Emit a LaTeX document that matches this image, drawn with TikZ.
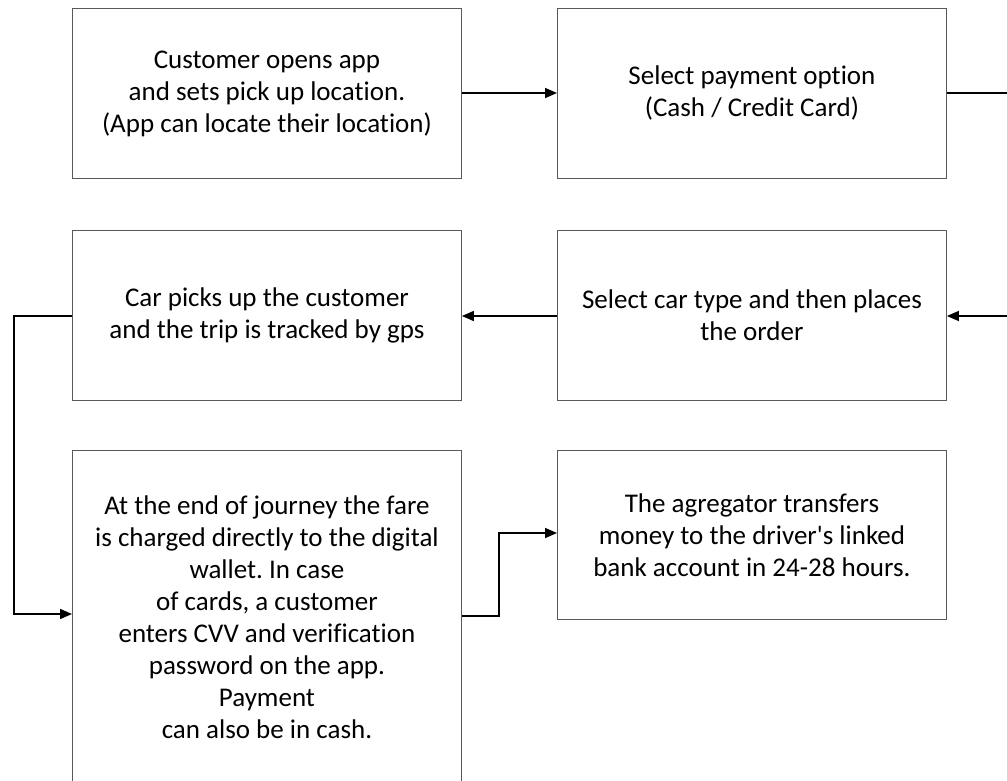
\documentclass[tikz,border=0pt]{standalone}
\usepackage{fontspec}
\setmainfont{Carlito}[Ligatures={NoCommon}]
\usetikzlibrary{arrows.meta}
\frenchspacing
\begin{document}
\begin{tikzpicture}[x=1pt,y=-1pt,
  box/.style={draw=black!65,line width=0.9pt,rectangle,minimum width=389pt,minimum height=170pt,
    align=center,inner sep=0pt,font=\fontsize{27}{32}\selectfont,anchor=north west},
  conn/.style={draw=black,line width=1.6pt},
  arr/.style={conn,-{Triangle[length=12pt,width=10pt]}}]
\useasboundingbox (0,0) rectangle (1007,781);
\clip (0,0) rectangle (1007,781);
\node[box] (b1) at (72,8) {Customer opens app\\and sets pick up location.\\(App can locate their location)};
\node[box] (b2) at (557,8) {Select payment option\\(Cash / Credit Card)};
\node[box] (b3) at (72,230) {Car picks up the customer\\and the trip is tracked by gps};
\node[box] (b4) at (557,230) {Select car type and then places\\the order};
\node[box,minimum height=333pt] (b5) at (72,450) {At the end of journey the fare\\is charged directly to the digital\\wallet. In case\\of cards, a customer\\enters CVV and verification\\password on the app.\\Payment\\can also be in cash.};
\node[box,minimum height=169pt] (b6) at (557,450) {The agregator transfers\\money to the driver\textquotesingle s linked\\bank account in 24-28 hours.};
\coordinate (r1) at (1012,93);
\coordinate (r2) at (1012,316);
\coordinate (l1) at (14,316);
\coordinate (l2) at (14,614);
\coordinate (m1) at (499,616);
\coordinate (m2) at (499,533);
\draw[arr] (b1.east |- 0,93) -- (b2.west |- 0,93);
\draw[conn] (b2.east |- 0,93) -- (r1);
\draw[arr] (r2) -- (b4.east |- 0,316);
\draw[arr] (b4.west |- 0,316) -- (b3.east |- 0,316);
\draw[arr] (b3.west |- 0,316) -- (l1) -- (l2) -- (b5.west |- 0,614);
\draw[arr] (b5.east |- 0,616) -- (m1) -- (m2) -- (b6.west |- 0,533);
\end{tikzpicture}
\end{document}
